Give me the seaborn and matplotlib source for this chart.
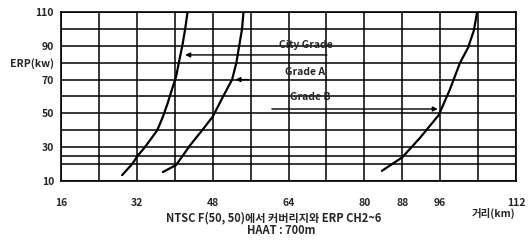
import matplotlib
matplotlib.use("Agg")
import matplotlib.pyplot as plt
import seaborn as sns
import pandas as pd

# ---- data ----
city_x = [28.9, 31.0, 32.2, 33.7, 36.3, 37.5, 38.5, 39.5, 40.3, 41.0, 41.6, 42.2, 42.7]
city_y = [13.5, 20, 25, 30, 40, 48, 56, 65, 72, 82, 90, 100, 110]
gradeA_x = [37.5, 40.3, 43.2, 46.0, 48.0, 50.2, 52.1, 53.0, 53.6, 54.2, 54.5]
gradeA_y = [15.3, 19.5, 31, 40.8, 48, 60, 70, 80, 90, 100, 110]
gradeB_x = [83.7, 88.0, 91.7, 95.7, 98.0, 100.2, 101.9, 103.1, 103.8]
gradeB_y = [16, 24, 35.4, 49, 63.8, 80, 89, 99, 110]

x_grid = [16, 24, 32, 40, 48, 56, 64, 72, 80, 88, 96, 104, 112]
x_labels = ["16", "", "32", "", "48", "", "64", "", "80", "88", "96", "", "112"]
y_grid = [10, 20, 25, 30, 40, 50, 60, 70, 80, 90, 100, 110]
y_labels = ["10", "", "", "30", "", "50", "", "70", "ERP(kw)", "90", "", "110"]

series_names = ["City Grade", "Grade A", "Grade B"]

rows = []
for name, xs, ys in zip(series_names, [city_x, gradeA_x, gradeB_x], [city_y, gradeA_y, gradeB_y]):
    for i, (xv, yv) in enumerate(zip(xs, ys)):
        rows.append({"grade": name, "dist": xv, "erp": yv, "order": i})
df = pd.DataFrame(rows)

sns.set_style("white")
plt.rcParams["font.family"] = ["Noto Sans CJK KR", "DejaVu Sans"]

fig = plt.figure(figsize=(5.31, 2.40), dpi=100)
ax = fig.add_axes([61 / 531, 1 - 181 / 240, (516 - 61) / 531, (181 - 12) / 240])

sns.lineplot(data=df, x="dist", y="erp", hue="grade", units="grade", estimator=None,
             sort=False, palette=["black"] * 3, linewidth=1.6, legend=False, ax=ax)

ax.set_xlim(16, 112)
ax.set_ylim(10, 110)
ax.set_xticks(x_grid)
ax.set_xticklabels(x_labels)
ax.set_yticks(y_grid)
ax.set_yticklabels(y_labels)
ax.tick_params(axis="both", length=0, labelsize=7.5)
ax.tick_params(axis="x", pad=12)
ax.tick_params(axis="y", pad=5)
for lab in ax.get_xticklabels() + ax.get_yticklabels():
    lab.set_fontweight("bold")
ax.grid(True, color="black", linewidth=1.1)
for s in ax.spines.values():
    s.set_color("black")
    s.set_linewidth(1.2)
ax.set_xlabel("")
ax.set_ylabel("")

# labels and arrows
ax.text(67.7, 90.5, "City Grade", ha="center", va="center", fontsize=7.5, fontweight="bold")
ax.text(67.5, 74.5, "Grade A", ha="center", va="center", fontsize=7.5, fontweight="bold")
ax.text(68.5, 59.7, "Grade B", ha="center", va="center", fontsize=7.5, fontweight="bold")
arrow = dict(arrowstyle="-|>", color="black", lw=1.0, mutation_scale=7, shrinkA=0, shrinkB=0)
ax.annotate("", xy=(42.2, 84.6), xytext=(72.1, 84.6), arrowprops=arrow)
ax.annotate("", xy=(52.8, 70.0), xytext=(55.6, 70.0), arrowprops=arrow)
ax.annotate("", xy=(95.5, 52.6), xytext=(60.5, 52.6), arrowprops=arrow)

fig.text(274 / 531, 1 - 218 / 240, "NTSC F(50, 50)에서 커버리지와 ERP CH2~6",
         ha="center", va="center", fontsize=8, fontweight="bold")
fig.text(281 / 531, 1 - 230 / 240, "HAAT : 700m", ha="center", va="center",
         fontsize=8, fontweight="bold")
fig.text(494 / 531, 1 - 213 / 240, "거리(km)", ha="center", va="center",
         fontsize=7.5, fontweight="bold")

fig.savefig("out.png", dpi=100)
